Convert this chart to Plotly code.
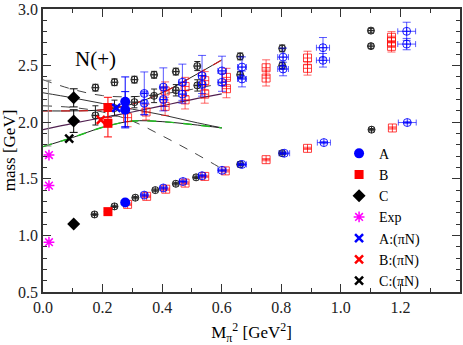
import plotly.graph_objects as go

# ---- fit curves ----
line_x = [0.0, 0.1, 0.2, 0.3, 0.4, 0.5, 0.6]
upper_dash_y = [2.375, 2.29, 2.235, 2.225, 2.25, 2.29, 2.345]
black_solid_y = [2.26, 2.215, 2.165, 2.115, 2.065, 2.005, 1.95]
lower_dash_y = [2.145, 2.13, 2.09, 2.01, 1.88, 1.74, 1.59]
red_dash_y = [2.10, 2.10, 2.11, 2.16, 2.26, 2.40, 2.55]
purple_y = [1.935, 1.99, 2.04, 2.09, 2.145, 2.20, 2.25]
green_y = [1.784, 1.865, 1.955, 2.01, 2.005, 1.98, 1.95]

# ---- filled symbols (legend) ----
a_x = [0.276, 0.276, 0.276]
a_y = [1.29, 2.11, 2.18]
a_err = [0.0, 0.16, 0.22]
b_x = [0.218, 0.218, 0.218]
b_y = [1.21, 1.99, 2.13]
b_err = [0.0, 0.12, 0.09]
c_x = [0.103, 0.103, 0.103]
c_y = [1.10, 2.01, 2.215]
c_err = [0.0, 0.10, 0.08]
exp_x = [0.02, 0.02, 0.02]
exp_y = [0.94, 1.44, 1.71]
a_pin_x, a_pin_y = [0.246], [2.126]
b_pin_x, b_pin_y = [0.194], [2.02]
c_pin_x, c_pin_y = [0.088], [1.855]

# extrapolated band at the chiral limit
chiral_x, chiral_y, chiral_err = [0.018], [2.08], [0.29]

# ---- open symbols (no legend) ----
blue_x = [0.34, 0.404, 0.47, 0.534, 0.601, 0.668, 0.81, 0.943, 1.223,
          0.34, 0.34, 0.404, 0.404, 0.468, 0.468, 0.534, 0.534, 0.601, 0.601,
          0.668, 0.668, 0.806, 0.806, 0.94, 0.94, 1.221, 1.221]
blue_y = [1.356, 1.419, 1.476, 1.527, 1.575, 1.627, 1.726, 1.82, 1.997,
          2.254, 2.168, 2.31, 2.20, 2.353, 2.248, 2.41, 2.333, 2.453, 2.353,
          2.487, 2.382, 2.575, 2.47, 2.658, 2.547, 2.803, 2.69]
blue_ey = [0.01, 0.01, 0.01, 0.01, 0.01, 0.01, 0.01, 0.01, 0.01,
           0.19, 0.10, 0.17, 0.10, 0.16, 0.08, 0.18, 0.08, 0.13, 0.08,
           0.09, 0.07, 0.08, 0.06, 0.09, 0.06, 0.08, 0.05]
blue_ex = [0.01, 0.01, 0.012, 0.012, 0.014, 0.015, 0.018, 0.022, 0.03,
           0.008, 0.008, 0.01, 0.01, 0.012, 0.012, 0.012, 0.012, 0.014, 0.014,
           0.015, 0.015, 0.018, 0.018, 0.022, 0.022, 0.03, 0.03]

red_x = [0.284, 0.348, 0.412, 0.477, 0.543, 0.612, 0.749, 0.888, 1.173,
         0.284, 0.346, 0.41, 0.41, 0.477, 0.477, 0.543, 0.543, 0.616, 0.616,
         0.749, 0.749, 0.888, 0.888, 1.17, 1.17, 1.17]
red_y = [1.274, 1.345, 1.408, 1.462, 1.521, 1.57, 1.669, 1.769, 1.949,
         2.04, 2.09, 2.276, 2.14, 2.316, 2.197, 2.367, 2.248, 2.396, 2.296,
         2.481, 2.39, 2.567, 2.476, 2.75, 2.71, 2.67]
red_ey = [0.01, 0.01, 0.01, 0.01, 0.01, 0.01, 0.01, 0.01, 0.01,
          0.08, 0.07, 0.08, 0.08, 0.08, 0.08, 0.08, 0.08, 0.08, 0.08,
          0.07, 0.07, 0.06, 0.06, 0.05, 0.05, 0.05]

black_x = [0.173, 0.24, 0.31, 0.377, 0.446, 0.514, 0.662, 0.803, 1.103,
           0.176, 0.176, 0.24, 0.24, 0.307, 0.307, 0.373, 0.373, 0.446, 0.446,
           0.518, 0.518, 0.662, 0.662, 0.803, 0.803, 1.101, 1.101]
black_y = [1.185, 1.256, 1.333, 1.40, 1.456, 1.513, 1.627, 1.726, 1.934,
           2.305, 2.06, 2.353, 2.125, 2.376, 2.177, 2.419, 2.233, 2.447, 2.282,
           2.496, 2.325, 2.581, 2.419, 2.652, 2.50, 2.809, 2.672]
black_ey = [0.01, 0.01, 0.01, 0.01, 0.01, 0.01, 0.01, 0.01, 0.01,
            0.03, 0.085, 0.03, 0.07, 0.03, 0.05, 0.03, 0.06, 0.03, 0.05,
            0.04, 0.05, 0.03, 0.03, 0.03, 0.03, 0.02, 0.02]

SERIF = "Liberation Serif"
BLUE, RED, MAG = "#0000ff", "#ff0000", "#ff00ff"

fig = go.Figure()


def add_line(y, color, dash="solid", width=1.0):
    fig.add_trace(go.Scatter(x=line_x, y=y, mode="lines", showlegend=False,
                             line=dict(color=color, dash=dash, width=width, shape="spline")))


add_line(upper_dash_y, "#444444", "dash")
add_line(black_solid_y, "#333333")
add_line(lower_dash_y, "#444444", "dash")
add_line(red_dash_y, "#222222")
add_line(red_dash_y, "#d02020", "dash", 1.2)
add_line(purple_y, "#502050", "solid", 1.2)
add_line(green_y, "#222222")
add_line(green_y, "#20c020", "dash", 1.4)

fig.add_trace(go.Scatter(
    x=chiral_x, y=chiral_y, mode="markers", showlegend=False,
    marker=dict(size=1, color="rgba(0,0,0,0)"),
    error_y=dict(type="data", array=chiral_err, color="#888888", thickness=1, width=3)))

# open symbols
fig.add_trace(go.Scatter(
    x=red_x, y=red_y, mode="markers", showlegend=False,
    marker=dict(symbol="square-cross-open", size=8, color="rgba(255,0,0,0.75)",
                line=dict(width=1)),
    error_y=dict(type="data", array=red_ey, color="rgba(255,0,0,0.6)", thickness=1, width=4)))
fig.add_trace(go.Scatter(
    x=black_x, y=black_y, mode="markers", showlegend=False,
    marker=dict(symbol="circle-cross-open", size=7, color="#222222", line=dict(width=1)),
    error_y=dict(type="data", array=black_ey, color="#222222", thickness=1, width=3),
    error_x=dict(type="data", array=[0.008] * len(black_x), color="#666666", thickness=1, width=3)))
fig.add_trace(go.Scatter(
    x=blue_x, y=blue_y, mode="markers", showlegend=False,
    marker=dict(symbol="circle-cross-open", size=8, color="rgba(0,0,255,0.85)",
                line=dict(width=1)),
    error_y=dict(type="data", array=blue_ey, color="rgba(0,0,255,0.65)", thickness=1, width=4),
    error_x=dict(type="data", array=blue_ex, color="rgba(0,0,255,0.65)", thickness=1, width=3)))

# legend series
fig.add_trace(go.Scatter(
    x=a_x, y=a_y, mode="markers", name="A",
    marker=dict(symbol="circle", size=10, color=BLUE),
    error_y=dict(type="data", array=a_err, color=BLUE, thickness=1, width=4)))
fig.add_trace(go.Scatter(
    x=b_x, y=b_y, mode="markers", name="B",
    marker=dict(symbol="square", size=9, color=RED),
    error_y=dict(type="data", array=b_err, color=RED, thickness=1, width=4)))
fig.add_trace(go.Scatter(
    x=c_x, y=c_y, mode="markers", name="C",
    marker=dict(symbol="diamond", size=10, color="black"),
    error_y=dict(type="data", array=c_err, color="black", thickness=1, width=4)))
fig.add_trace(go.Scatter(
    x=exp_x, y=exp_y, mode="markers", name="Exp",
    marker=dict(symbol="asterisk-open", size=9, color=MAG, line=dict(color=MAG, width=1.5))))
for nm, xs, ys, col in [("A:(πN)", a_pin_x, a_pin_y, BLUE),
                        ("B:(πN)", b_pin_x, b_pin_y, RED),
                        ("C:(πN)", c_pin_x, c_pin_y, "black")]:
    fig.add_trace(go.Scatter(
        x=xs, y=ys, mode="markers", name=nm,
        marker=dict(symbol="x-thin-open", size=8, color=col, line=dict(color=col, width=2.5))))

fig.add_annotation(x=0.176, y=2.56, text="N(+)", showarrow=False,
                   font=dict(family=SERIF, size=21, color="black"))

axis_common = dict(
    showgrid=False, zeroline=False, showline=True, linecolor="#333333", linewidth=1.5,
    mirror="ticks", ticks="inside", ticklen=8, tickcolor="#333333", tickwidth=1,
    tickfont=dict(family=SERIF, size=16, color="#222222"), ticklabeloverflow="allow",
)
fig.update_xaxes(range=[0, 1.4], tickvals=[0, 0.2, 0.4, 0.6, 0.8, 1.0, 1.2],
                 ticktext=["0.0", "0.2", "0.4", "0.6", "0.8", "1.0", "1.2"],
                 minor=dict(ticks="inside", ticklen=4, dtick=0.1, tick0=0, tickcolor="#333333"),
                 title=dict(text="M<sub>π</sub><sup>2</sup> [GeV<sup>2</sup>]",
                            font=dict(family=SERIF, size=17, color="black"), standoff=16),
                 **axis_common)
fig.update_yaxes(range=[0.5, 3.0], tickvals=[0.5, 1.0, 1.5, 2.0, 2.5, 3.0],
                 ticktext=["0.5", "1.0", "1.5", "2.0", "2.5", "3.0"],
                 minor=dict(ticks="inside", ticklen=4, dtick=0.1, tick0=0.5, tickcolor="#333333"),
                 title=dict(text="mass [GeV]", font=dict(family=SERIF, size=17, color="black"),
                            standoff=2),
                 **axis_common)

fig.update_layout(
    width=463, height=345,
    margin=dict(l=43, r=1, t=6, b=47),
    paper_bgcolor="white", plot_bgcolor="white",
    showlegend=True,
    legend=dict(x=0.71, y=0.545, xanchor="left", yanchor="top",
                bgcolor="rgba(0,0,0,0)", font=dict(family=SERIF, size=14, color="black"),
                itemwidth=30),
)

fig.write_html("out.html", config={"displayModeBar": False},
               post_script="document.body.style.margin='0';")
